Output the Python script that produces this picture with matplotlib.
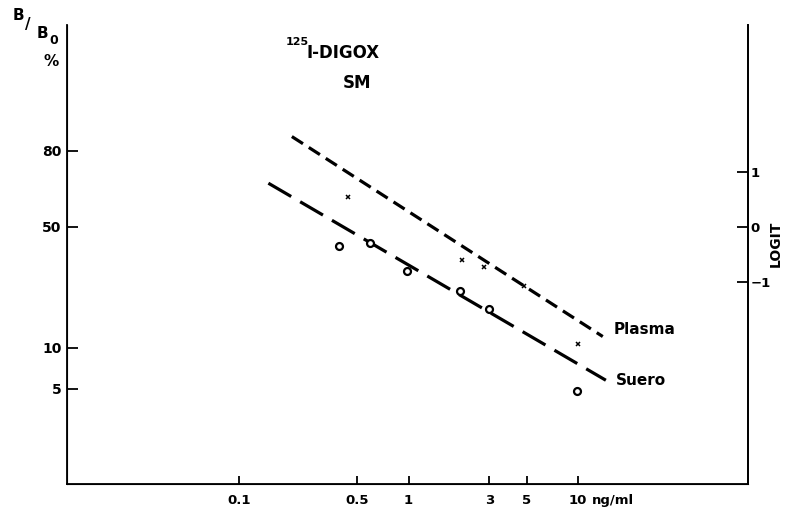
import matplotlib
matplotlib.use("Agg")
import matplotlib.pyplot as plt
import numpy as np

# ---- data ----
conc_suero = [0.39, 0.59, 0.98, 2.0, 3.0, 9.9]          # ng/ml
bb0_suero = [41.6, 42.8, 31.1, 23.9, 18.3, 4.85]        # B/B0 %
conc_plasma = [0.44, 2.07, 2.8, 4.8, 10.0]
bb0_plasma = [63.4, 35.4, 32.7, 25.6, 10.6]

# fitted regression lines (end points)
line_plasma_x = [0.205, 14.0]
line_plasma_y = [83.8, 12.0]
line_suero_x = [0.149, 14.6]
line_suero_y = [68.9, 5.8]

xticks = [0.1, 0.5, 1, 3, 5, 10]
xticklabels = ["0.1", "0.5", "1", "3", "5", "10"]
yticks_pct = [5, 10, 50, 80]
yticklabels = ["5", "10", "50", "80"]
logit_ticks = [-1, 0, 1]
logit_labels = ["\u22121", "0", "1"]

plt.rcParams['lines.scale_dashes'] = False
plt.rcParams['font.family'] = ['DejaVu Sans']
plt.rcParams['font.weight'] = 'bold'

W, H = 798, 515
fig = plt.figure(figsize=(W / 100, H / 100), dpi=100)

def fx(px):
    return px / W

def fy(py):
    return 1 - py / H

left_px, right_px, top_px, bot_px = 67, 748, 25, 484
ax = fig.add_axes([fx(left_px), fy(bot_px), (right_px - left_px) / W, (bot_px - top_px) / H])

ax.set_xscale('log')
ax.set_yscale('logit')
ax.set_xlim(0.00966, 100.7)
ax.set_ylim(0.00925, 0.9752)

def frac(v):
    return [p / 100.0 for p in v]

ax.plot(line_plasma_x, frac(line_plasma_y), color='black', lw=2.3,
        linestyle=(0, (9.5, 5.0)))
ax.plot(line_suero_x, frac(line_suero_y), color='black', lw=2.3,
        linestyle=(0, (19.0, 7.5)))

ax.plot(conc_suero, frac(bb0_suero), linestyle='none', marker='o', ms=5,
        mfc='white', mec='black', mew=1.6)
ax.plot(conc_plasma, frac(bb0_plasma), linestyle='none', marker='x', ms=3.5,
        color='black', mew=1.1)

ax.annotate("Plasma", xy=(line_plasma_x[1], line_plasma_y[1] / 100), xytext=(8, 5),
            textcoords='offset points', ha='left', va='center', fontsize=11, fontweight='bold')
ax.annotate("Suero", xy=(line_suero_x[1], line_suero_y[1] / 100), xytext=(7, 0),
            textcoords='offset points', ha='left', va='center', fontsize=11, fontweight='bold')

# spines
for s in ['left', 'bottom', 'right']:
    ax.spines[s].set_linewidth(1.3)
ax.spines['top'].set_visible(False)

# x ticks
ax.set_xticks(xticks)
ax.set_xticklabels(xticklabels)
ax.xaxis.set_minor_locator(matplotlib.ticker.NullLocator())
ax.tick_params(axis='x', direction='in', length=6, width=1.3, pad=7, labelsize=9.5)
ax.annotate("ng/ml", xy=(10, 0), xycoords=('data', 'axes fraction'), xytext=(10, -7),
            textcoords='offset points', ha='left', va='top', fontsize=9.5, fontweight='bold')

# y ticks (left)
ax.set_yticks(frac(yticks_pct))
ax.set_yticklabels(yticklabels)
ax.yaxis.set_minor_locator(matplotlib.ticker.NullLocator())
ax.tick_params(axis='y', direction='in', length=8, width=1.3, pad=4, labelsize=10)

# right logit axis
axr = ax.twinx()
axr.set_yscale('logit')
axr.set_ylim(ax.get_ylim())
axr.spines['top'].set_visible(False)
axr.spines['right'].set_linewidth(1.3)
axr.set_yticks([1 / (1 + np.exp(-t)) for t in logit_ticks])
axr.set_yticklabels(logit_labels)
axr.yaxis.set_minor_locator(matplotlib.ticker.NullLocator())
axr.tick_params(axis='y', direction='in', length=8, width=1.3, pad=2, labelsize=9.5)

fig.text(fx(776), fy(244), "LOGIT", rotation=90, ha='center', va='center',
         fontsize=10, fontweight='bold')

# y-axis title B/B0 %
fig.text(fx(18), fy(15), "B", ha='center', va='center', fontsize=11, fontweight='bold')
fig.text(fx(28), fy(24), "/", ha='center', va='center', fontsize=11, fontweight='bold')
fig.text(fx(42), fy(33), "B", ha='center', va='center', fontsize=11, fontweight='bold')
fig.text(fx(54), fy(40), "0", ha='center', va='center', fontsize=9, fontweight='bold')
fig.text(fx(51), fy(62), "%", ha='center', va='center', fontsize=11, fontweight='bold')

# title
fig.text(fx(286), fy(42), "125", ha='left', va='center', fontsize=8, fontweight='bold')
fig.text(fx(306), fy(53), "I-DIGOX", ha='left', va='center', fontsize=12, fontweight='bold')
fig.text(fx(357), fy(83), "SM", ha='center', va='center', fontsize=12, fontweight='bold')

fig.savefig("out.png", dpi=100)
